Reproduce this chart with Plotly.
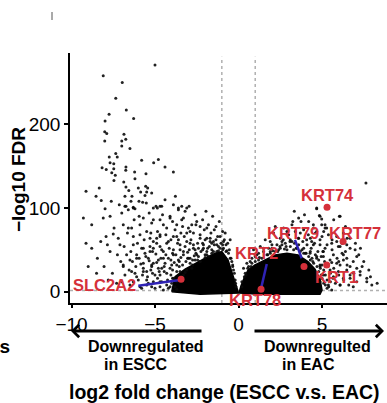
import plotly.graph_objects as go

# ---------------- data (log2 fold change, -log10 FDR) ----------------
# scattered genes, ESCC side (negative log2FC)
left_x = [-5.00, -8.10, -6.96, -7.35, -6.72, -7.75, -6.28, -7.99, -8.01, -7.89, -6.86, -6.75, -8.01, -6.99,
          -6.99, -6.50, -7.35, -7.26, -7.74, -5.80, -4.80, -5.08, -7.69, -7.47, -8.17, -6.74, -7.47, -4.40,
          -7.92, -6.75, -6.22, -7.59, -7.38, -5.54, -3.90, -6.20, -7.46, -6.87, -5.56, -6.74, -6.00, -5.44,
          -8.34, -6.57, -9.13, -5.86, -5.50, -5.60, -6.80, -6.38, -8.53, -3.78, -8.22, -7.62, -6.44, -5.96,
          -5.74, -5.52, -7.14, -6.74, -7.99, -6.30, -6.20, -4.94, -4.70, -4.86, -3.40, -2.96, -3.60, -3.10,
          -9.29, -8.79, -9.13, -8.79, -8.25, -7.93, -7.50, -8.10, -7.69, -6.99, -6.60, -7.69, -6.90, -6.10,
          -7.10, -7.20, -6.60, -6.30, -5.90, -5.50, -5.10, -4.90, -5.80, -5.30, -4.70, -4.30, -4.10, -3.70,
          -3.30, -2.90, -2.50, -6.50, -5.70, -5.10, -4.50, -4.10, -5.50, -4.70, -3.90, -3.50, -3.10, -2.70,
          -2.30, -2.10, -1.70, -1.90, -5.10, -4.70, -6.10, -4.50, -3.70, -3.30, -2.90, -2.50, -2.30, -1.90,
          -1.50, -3.70, -3.10, -4.70, -5.10, -5.50, -4.10, -5.90,
          -6.80, -6.30, -5.10, -4.60, -3.60, -6.90, -6.40, -5.70, -5.20, -4.70, -4.10, -3.40, -2.80, -3.80,
          -3.10, -2.30, -1.70, -5.90, -5.30, -4.70, -4.20, -3.60, -2.90, -2.10, -1.50, -6.30, -5.70, -5.10,
          -4.50, -3.90, -3.30, -2.60, -1.90, -1.20, -6.70, -6.10, -5.40, -4.80, -4.20, -3.60, -3.00, -5.20,
          -4.60, -4.00, -5.70, -5.00, -4.30, -3.70, -5.50, -4.60, -3.90, -6.90, -6.40,
          -3.80, -3.70, -3.30, -2.80, -2.30, -1.80, -1.30, -0.90, -0.60, -0.40, -0.30, -0.20, -0.15, -4.00,
          -3.50, -2.90, -2.40, -4.20, -3.95, -2.60, -2.00, -1.60, -1.10, -0.75, -0.50, -0.35,
          -5.85, -5.35, -4.95, -4.45, -4.15, -3.85, -3.45, -3.05, -2.65, -2.25, -1.85, -1.45, -1.05, -0.85,
          -1.25, -1.65, -2.05, -2.45, -2.85, -3.25, -3.65, -4.05, -4.35, -4.85, -5.25, -5.65, -6.05, -6.45,
          -6.85, -7.25, -7.05, -6.55, -6.15, -5.75, -5.25, -4.85, -4.45, -4.25, -4.05, -3.95, -3.55, -3.15,
          -2.75, -1.35, -0.95, -0.75, -0.55, -1.15, -1.55, -2.15, -2.55, -3.35, -3.95, -4.55, -5.35, -5.95,
          -6.25, -6.65, -7.45, -7.85, -8.45, -8.05, -7.55, -7.00, -6.50, -6.00, -5.40, -5.00, -4.50, -4.80,
          -5.15, -5.55, -6.35, -2.00, -3.70, -3.85, -3.45, -3.20, -2.75, -2.45, -2.00, -1.60, -1.20, -0.95,
          -0.70, -0.45, -0.35, -0.25, -0.18,
          -5.45, -5.15, -4.90, -4.65, -4.35, -4.05, -3.75, -3.50, -3.20, -2.95, -2.70, -2.40, -2.15, -1.90,
          -1.60, -1.35, -1.10, -0.90, -0.65, -0.50, -0.80, -1.45, -1.80, -2.30, -2.70, -3.00, -3.45, -3.90,
          -4.30, -4.60, -4.90, -5.30, -5.60, -5.95, -6.20, -5.70, -5.20, -4.75, -4.40, -3.95, -3.55, -3.35,
          -3.05, -2.55, -2.15, -1.75, -1.30, -0.95, -4.30, -4.70, -5.20, -5.80, -6.30, -6.80, -7.30, -7.80,
          -8.50, -9.00, -2.60, -1.95, -3.20, -3.90, -4.40, -5.20]
left_y = [271, 258, 250, 231, 217, 212, 207, 204, 191, 189, 188, 182, 180, 180,
          174, 171, 165, 161, 161, 157, 158, 154, 154, 153, 148, 149, 147, 149,
          146, 145, 143, 142, 139, 141, 143, 135, 133, 131, 126, 125, 124, 124,
          124, 121, 120, 119, 119, 115, 114, 114, 114, 114, 109, 108, 108, 108,
          107, 106, 104, 102, 99, 101, 99, 102, 102, 100, 102, 102, 100, 100,
          88, 80, 58, 52, 60, 66, 69, 88, 90, 94, 98, 48, 32, 18,
          56, 64, 76, 66, 80, 72, 86, 64, 52, 48, 54, 76, 88, 80,
          88, 72, 84, 38, 34, 34, 40, 28, 24, 20, 44, 56, 60, 52,
          64, 52, 60, 76, 60, 68, 44, 80, 66, 44, 40, 44, 36, 44,
          48, 32, 26, 6, 12, 8, 6, 6,
          102, 100, 100, 102, 98, 80, 76, 88, 82, 86, 90, 86, 80, 74,
          70, 68, 64, 68, 64, 66, 60, 62, 58, 56, 60, 56, 52, 52,
          48, 50, 48, 50, 48, 54, 44, 40, 40, 38, 40, 38, 40, 30,
          28, 32, 24, 20, 22, 24, 14, 12, 16, 30, 24,
          6, 12, 20, 28, 36, 42, 48, 52, 46, 36, 26, 14, 6, 10,
          24, 34, 42, 4, 16, 38, 44, 50, 52, 48, 40, 30,
          33, 37, 45, 30, 52, 35, 41, 47, 43, 48, 52, 56, 58, 62,
          66, 70, 74, 58, 62, 66, 58, 62, 68, 72, 70, 62, 58, 48,
          54, 44, 36, 26, 30, 20, 26, 16, 24, 14, 20, 26, 30, 36,
          38, 78, 72, 56, 50, 84, 90, 86, 80, 78, 84, 92, 94, 90,
          86, 70, 76, 56, 40, 30, 22, 12, 8, 14, 10, 4, 2, 28,
          48, 42, 36, 62, 3, 14, 18, 23, 32, 38, 41, 46, 49, 50,
          49, 40, 32, 22, 10,
          18, 22, 35, 40, 44, 38, 44, 50, 54, 50, 56, 52, 58, 64,
          58, 62, 66, 60, 58, 62, 70, 74, 80, 78, 70, 76, 70, 66,
          58, 50, 58, 54, 46, 40, 22, 28, 32, 24, 34, 46, 36, 32,
          40, 46, 50, 54, 56, 56, 8, 12, 6, 4, 12, 20, 10, 14,
          22, 30, 92, 96, 96, 104, 110, 118]

# scattered genes, EAC side (positive log2FC)
right_x = [7.63, 3.34, 4.68, 4.84, 4.98, 6.04, 3.74, 4.48, 5.18, 4.38, 4.88, 5.88, 6.08, 6.68,
           5.08, 5.68, 6.28, 4.68, 5.58, 6.08, 6.68, 4.88, 7.08, 6.87, 6.48, 6.28, 7.08, 7.28,
           7.68, 6.68, 6.08, 6.87, 5.58,
           3.08, 4.08, 4.48, 4.88, 5.18, 5.58, 5.98, 6.48, 6.98, 4.28, 4.68, 5.08, 5.48, 5.88,
           4.88, 5.48, 5.98, 6.48, 5.08, 5.68, 6.28, 4.88, 5.38, 6.08, 6.68, 7.28, 7.68, 7.08,
           7.98, 2.68, 3.58, 2.48, 4.18, 4.68, 5.38, 5.88, 6.28, 6.68, 5.28, 4.88, 6.08, 4.68,
           4.98, 5.18,
           0.60, 1.00, 1.40, 1.90, 2.40, 2.90, 3.30, 3.70, 4.20, 4.50, 4.80, 5.00, 5.20, 5.30,
           0.40, 0.20, 2.00, 2.60, 3.10, 4.00, 0.30, 0.80, 1.20, 1.70, 2.20, 3.50, 3.90, 4.30,
           0.50, 0.80, 1.10, 1.50, 1.80, 2.30, 2.80, 3.20, 3.60, 3.90, 4.30, 4.60, 4.80, 5.00,
           5.10, 5.20, 5.30, 5.40, 1.30, 1.90, 2.50, 3.00, 3.40, 3.90, 4.30, 4.60, 5.00, 2.10,
           2.70, 3.20, 3.60, 4.20, 0.90, 1.60, 2.20, 5.50, 5.70, 5.90, 6.20, 6.50, 6.90, 7.40,
           7.90, 8.30, 0.35, 0.55, 0.20, 0.70, 1.25, 2.05, 2.75, 3.45, 4.05, 4.40, 4.70, 4.95,
           5.10,
           1.20, 1.50, 1.75, 2.00, 2.35, 2.60, 2.85, 3.10, 3.35, 3.60, 3.85, 4.10, 4.35, 4.55,
           4.75, 4.95, 5.15, 5.35, 5.50, 5.65, 5.80, 6.00, 6.30, 6.60, 2.90, 3.70, 4.50, 5.10,
           5.60, 6.00, 6.40, 7.20, 7.50, 7.80, 1.00, 0.75, 0.45, 1.90, 2.50, 3.80, 4.45, 4.90,
           5.05, 5.30, 5.60, 6.20, 6.50, 7.00, 7.30, 3.25, 3.95, 5.70, 6.40]
right_y = [130, 96, 99, 91, 87, 90, 84, 80, 80, 60, 56, 60, 54, 52,
           48, 44, 38, 42, 35, 32, 30, 32, 28, 36, 40, 44, 42, 20,
           12, 16, 8, 6, 2,
           60, 62, 56, 62, 52, 58, 54, 56, 50, 46, 40, 42, 38, 34,
           30, 26, 24, 26, 20, 18, 16, 12, 8, 8, 20, 24, 16, 12,
           8, 62, 64, 54, 68, 72, 68, 66, 70, 64, 76, 90, 90, 100,
           80, 76,
           30, 36, 40, 46, 50, 50, 50, 48, 42, 34, 24, 16, 8, 4,
           22, 12, 52, 56, 54, 46, 28, 34, 38, 44, 48, 52, 46, 38,
           34, 40, 44, 48, 52, 56, 58, 60, 56, 52, 48, 44, 38, 32,
           26, 20, 14, 6, 54, 60, 64, 68, 72, 74, 64, 70, 66, 70,
           76, 80, 88, 84, 50, 62, 78, 12, 28, 40, 46, 32, 22, 30,
           18, 10, 18, 28, 6, 36, 41, 49, 51, 52, 46, 40, 30, 20,
           10,
           46, 52, 44, 56, 48, 60, 54, 62, 58, 64, 60, 56, 52, 58,
           48, 42, 36, 30, 22, 16, 10, 20, 14, 8, 72, 70, 76, 72,
           50, 36, 48, 44, 36, 26, 42, 30, 20, 48, 52, 50, 36, 28,
           48, 56, 62, 58, 64, 58, 52, 84, 92, 86, 78]

# outlines of the saturated point clouds near the origin
core_left_x = [-4.00, -3.80, -3.20, -2.60, -2.00, -1.40, -1.00, -0.63, -0.33, -0.09, 0.00, -2.30, -4.00]
core_left_y = [0, 18, 27, 34, 40, 46, 48, 38, 19, 2, -1.5, -3, 0]
core_right_x = [0.03, 0.15, 0.33, 0.57, 0.99, 1.59, 2.19, 2.90, 3.56, 4.16, 4.58, 4.88, 5.00, 4.88, 1.29, 0.03]
core_right_y = [-1.5, 7, 16, 26, 32, 38, 44, 46, 44, 36, 27, 15, 2, -3, -3, -1.5]

# highlighted genes
genes = ["KRT74", "KRT77", "KRT1", "KRT79", "KRT2", "SLC2A2"]
gene_x = [5.30, 6.26, 5.28, 3.92, 1.35, -3.44]
gene_y = [101, 60, 32, 30, 3, 15]

# leader lines (label end -> gene)
lead_x = [[-6.0, -3.50], [1.69, 1.35], [3.38, 3.78]]
lead_y = [[7, 14], [33, 4], [62, 40]]

x_ticks = [-10, -5, 0, 5]
y_ticks = [0, 100, 200]
fc_cut = [-1, 1]
fdr_cut = 1.3

RED = "#d5303a"
BLUE = "#2f23b5"
FONT = "Liberation Sans, Arial, sans-serif"

fig = go.Figure()
for cx, cy in [(core_left_x, core_left_y), (core_right_x, core_right_y)]:
    fig.add_trace(go.Scatter(x=cx, y=cy, mode="lines", fill="toself", fillcolor="black",
                             line=dict(color="black", width=1.5), hoverinfo="skip"))
fig.add_trace(go.Scatter(x=left_x + right_x, y=left_y + right_y, mode="markers",
                         marker=dict(size=3, color="rgba(10,10,10,0.9)")))
for lx, ly in zip(lead_x, lead_y):
    fig.add_trace(go.Scatter(x=lx, y=ly, mode="lines", line=dict(color=BLUE, width=2.5)))
fig.add_trace(go.Scatter(x=gene_x, y=gene_y, mode="markers", text=genes,
                         marker=dict(size=7, color=RED)))

# cut-off guides
for v in fc_cut:
    fig.add_shape(type="line", xref="x", yref="paper", x0=v, x1=v, y0=0, y1=0.985,
                  line=dict(color="#b0b0b0", width=1.5, dash="dot"), layer="below")
fig.add_shape(type="line", xref="paper", yref="y", x0=0, x1=1, y0=fdr_cut, y1=fdr_cut,
              line=dict(color="#b0b0b0", width=1.5, dash="dot"), layer="below")

# gene labels
label_pos = {"KRT74": (5.30, 116), "KRT79": (3.26, 70), "KRT77": (6.98, 70), "KRT2": (1.05, 46),
             "KRT1": (5.84, 18), "KRT78": (0.99, -10), "SLC2A2": (-8.05, 8)}
for name, (lx, ly) in label_pos.items():
    fig.add_annotation(x=lx, y=ly, xref="x", yref="y", text=name, showarrow=False,
                       font=dict(family=FONT, size=16.5, color=RED, weight="bold"))

def px(xp):
    return (xp - 70) / 317.0

def py(yp):
    return (303 - yp) / 250.0

# direction arrows
fig.add_annotation(xref="paper", yref="paper", x=px(71), y=py(331), ax=132, ay=0, text="",
                   showarrow=True, arrowhead=4, arrowwidth=3, arrowsize=0.8, arrowcolor="black")
fig.add_annotation(xref="paper", yref="paper", x=px(384), y=py(331), ax=-131, ay=0, text="",
                   showarrow=True, arrowhead=4, arrowwidth=3, arrowsize=0.8, arrowcolor="black")

bold16 = dict(family=FONT, size=16, color="black", weight="bold")
for txt, xc, yc in [("Downregulated", 146, 346), ("in ESCC", 136, 364),
                    ("Downregulted", 317, 346), ("in EAC", 308, 364)]:
    fig.add_annotation(xref="paper", yref="paper", x=px(xc), y=py(yc), text=txt, showarrow=False,
                       xanchor="center", yanchor="middle", font=bold16)

fig.add_annotation(xref="paper", yref="paper", x=px(224), y=py(392), text="log2 fold change (ESCC v.s. EAC)",
                   showarrow=False, xanchor="center", yanchor="middle",
                   font=dict(family=FONT, size=19.5, color="black", weight="bold"))
fig.add_annotation(xref="paper", yref="paper", x=px(18), y=py(180), text="−log10 FDR", textangle=-90,
                   showarrow=False, xanchor="center", yanchor="middle",
                   font=dict(family=FONT, size=19, color="black", weight="bold"))
fig.add_annotation(xref="paper", yref="paper", x=px(12), y=py(346), text="ps",
                   showarrow=False, xanchor="right", yanchor="middle",
                   font=dict(family=FONT, size=19, color="black", weight="bold"))
fig.add_shape(type="line", xref="paper", yref="paper", x0=px(52), x1=px(52), y0=py(12), y1=py(20),
              line=dict(color="#555", width=1))

fig.update_layout(
    width=387, height=403, margin=dict(l=70, r=0, t=53, b=100),
    plot_bgcolor="white", paper_bgcolor="white", showlegend=False,
    font=dict(family=FONT, color="black"),
    xaxis=dict(range=[-10.09, 8.89], tickvals=x_ticks, showline=True, linecolor="black", linewidth=1.5,
               ticks="outside", ticklen=3, tickwidth=1.5, tickcolor="black", showgrid=False, zeroline=False,
               tickfont=dict(size=19, family=FONT, color="black")),
    yaxis=dict(range=[-13.5, 285.2], tickvals=y_ticks, showline=True, linecolor="black", linewidth=1.5,
               ticks="outside", ticklen=4, tickwidth=1.5, tickcolor="black", showgrid=False, zeroline=False,
               tickfont=dict(size=19, family=FONT, color="black")),
)
fig.write_html("out.html", config={"displayModeBar": False},
               post_script="document.body.style.margin='0';document.body.style.overflow='hidden';")
